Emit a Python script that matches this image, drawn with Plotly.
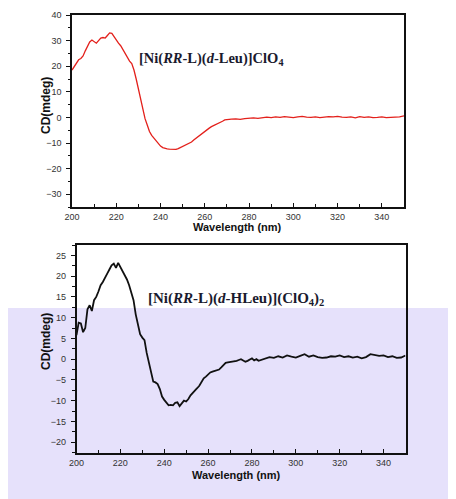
import plotly.graph_objects as go

# ---- data: top spectrum [Ni(RR-L)(d-Leu)]ClO4 (red) ----
wl_top = list(range(200, 271)) + list(range(272, 351, 2))
cd_top = [18.5, 20, 21.5, 22.5, 23, 24, 26, 28, 29.5, 30.2,
          29.5, 29, 30, 31, 31.2, 31, 32, 33, 32.8, 31.5,
          30, 29, 28, 26.5, 24.5, 23, 22, 21, 18.5, 15,
          11, 6.5, 2.5, -0.5, -3, -5.5, -7, -8, -9, -10.3,
          -11.2, -11.8, -12.2, -12.3, -12.4, -12.4, -12.6, -12.5, -12.2, -11.8,
          -11.4, -11, -10.7, -10.3, -9.6, -8.8, -8.1, -7.4, -6.8, -6.1,
          -5.4, -4.8, -4.2, -3.6, -3.2, -3.0, -2.6, -2.0, -1.5, -1.0,
          -0.8,
          -0.7, -0.6, -0.8, -0.5, -0.3, -0.2, -0.4, -0.1, 0.1, -0.1,
          0.2, 0.0, 0.3, 0.1, -0.1, 0.2, 0.4, 0.1, 0.0, 0.2,
          -0.1, 0.1, 0.3, 0.2, 0.4, 0.1, 0.0, 0.2, -0.2, 0.3,
          0.0, 0.2, -0.1, 0.0, 0.2, -0.1, 0.0, 0.1, 0.2, 0.6]

# ---- data: bottom spectrum [Ni(RR-L)(d-HLeu)](ClO4)2 (black) ----
wl_bot = list(range(200, 285)) + list(range(286, 351, 2))
cd_bot = [5.8, 8.8, 8.6, 6.5, 7.5, 12.0, 13.0, 11.6, 14.2, 15.0,
          16.3, 17.8, 18.6, 19.8, 20.6, 21.6, 22.6, 23.0, 22.0, 23.2,
          22.2, 21.5, 20.2, 19.2, 17.8, 16.0, 14.2, 10.8, 8.5, 6.0,
          5.2, 4.6, 1.5, -1.0, -3.0, -5.4, -5.6, -6.0, -7.2, -9.0,
          -9.8, -10.5, -11.1, -11.0, -11.1, -10.5, -10.4, -11.3, -10.6, -10.0,
          -10.2, -9.6, -8.7, -8.2, -7.6, -7.0, -6.4, -5.5, -4.6, -4.2,
          -3.6, -3.2, -3.0, -2.8, -2.6, -2.5, -2.0, -1.4, -0.9, -0.8,
          -0.7, -0.6, -0.6, -0.4, -0.2, 0.0, -0.3, -0.6, -0.4, 0.0,
          0.2, -0.3, 0.0, -0.4, -0.2,
          0.2, 0.5, 0.3, 0.7, 0.4, 0.9, 0.6, 0.4, 0.8, 1.2,
          0.6, 0.9, 0.5, 0.3, 0.4, 0.7, 0.6, 0.9, 0.5, 0.7,
          0.4, 0.6, 0.2, 0.5, 1.2, 1.0, 0.8, 0.9, 0.5, 0.7,
          0.3, 0.4, 0.9]

label_top = "<b>[Ni(<i>RR</i>-L)(<i>d</i>-Leu)]ClO<sub>4</sub></b>"
label_bot = "<b>[Ni(<i>RR</i>-L)(<i>d</i>-HLeu)](ClO<sub>4</sub>)<sub>2</sub></b>"
x_title = "Wavelength (nm)"
y_title = "CD(mdeg)"

# the page body has an 8px margin; the figure is sized/offset to fill the 456x499 window
OFF = 8
W, H = 456 - OFF, 499 - OFF
def px(x):
    return (x - OFF) / W
def py(y):
    return 1 - (y - OFF) / H

fig = go.Figure()
fig.add_trace(go.Scatter(x=wl_top, y=cd_top, mode="lines",
                         line=dict(color="#e3201b", width=1.3),
                         xaxis="x", yaxis="y", showlegend=False))
fig.add_trace(go.Scatter(x=wl_bot, y=cd_bot, mode="lines",
                         line=dict(color="#111111", width=1.8),
                         xaxis="x2", yaxis="y2", showlegend=False))

tickfont = dict(family="Liberation Sans, Arial", size=9, color="#333333")

def xax(domain, anchor):
    return dict(domain=domain, anchor=anchor, range=[200, 350], dtick=20, tick0=200,
                ticks="inside", ticklen=4, tickwidth=1.2, tickcolor="#111",
                minor=dict(dtick=10, ticks="inside", ticklen=3, tickcolor="#111"),
                showline=True, linecolor="#111", linewidth=1.5, mirror=True,
                showgrid=False, zeroline=False, tickfont=tickfont, automargin=False)

def yax(domain, anchor, rng, dt, tv):
    return dict(domain=domain, anchor=anchor, range=rng, tickvals=tv,
                ticks="outside", ticklen=4, tickwidth=1.2, tickcolor="#111",
                minor=dict(dtick=dt / 2, tick0=0, ticks="outside", ticklen=2.5, tickcolor="#111"),
                showline=True, linecolor="#111", linewidth=1.5, mirror=True,
                showgrid=False, zeroline=False, tickfont=tickfont, automargin=False,
                ticklabelstandoff=3)

def title_ann(text, x, y, size, angle=0):
    return dict(text="<b>" + text + "</b>", xref="paper", yref="paper", x=px(x), y=py(y),
                xanchor="center", yanchor="middle", showarrow=False, textangle=angle,
                font=dict(family="Liberation Sans, Arial", size=size, color="#111111"))

fig.update_layout(
    width=W, height=H, margin=dict(l=0, r=0, t=0, b=0, autoexpand=False),
    paper_bgcolor="white", plot_bgcolor="rgba(0,0,0,0)",
    xaxis=xax([px(72), px(404)], "y"),
    yaxis=yax([py(207), py(15)], "x", [-35, 40], 10, list(range(-30, 41, 10))),
    xaxis2=xax([px(76.5), px(405.5)], "y2"),
    yaxis2=yax([py(453), py(245)], "x2", [-22.6, 27.5], 5, list(range(-20, 26, 5))),
    shapes=[
        dict(type="rect", xref="paper", yref="paper", x0=px(8), x1=1.0, y0=0, y1=py(308),
             fillcolor="#e6e1fb", line=dict(width=0), layer="below"),
    ],
    annotations=[
        dict(text=label_top, xref="paper", yref="paper", x=px(137), y=py(59),
             xanchor="left", yanchor="middle", showarrow=False,
             font=dict(family="Liberation Serif, Times New Roman", size=14.5, color="#1a1a2e")),
        dict(text=label_bot, xref="paper", yref="paper", x=px(146), y=py(299),
             xanchor="left", yanchor="middle", showarrow=False,
             font=dict(family="Liberation Serif, Times New Roman", size=15, color="#1a1a2e")),
        title_ann(y_title, 46, 106, 12, -90),
        title_ann(y_title, 46, 342, 12, -90),
        title_ann(x_title, 237, 227, 11),
        title_ann(x_title, 236, 475, 11),
    ],
)

fig.write_html("out.html")
